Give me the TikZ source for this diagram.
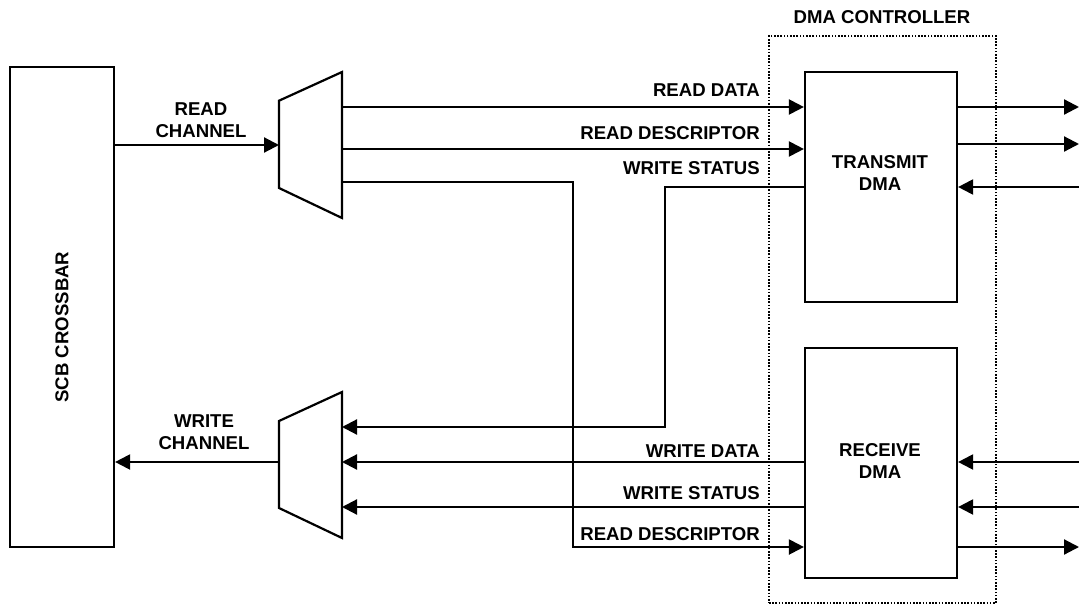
\documentclass[tikz,border=0pt]{standalone}
\usepackage{fontspec}
\setmainfont{Liberation Sans}
\usetikzlibrary{arrows.meta}
\begin{document}
\begin{tikzpicture}[x=1pt,y=-1pt,
  txt/.style={font=\bfseries\fontsize{18.6}{22}\selectfont, inner sep=0pt, align=center},
  lbl/.style={txt, anchor=east},
  blk/.style={draw, line width=2.2pt, inner sep=0pt},
  wire/.style={line width=2.2pt},
  arr/.style={line width=2.2pt, -{Triangle[length=15pt,width=15pt]}},
  ctrl/.style={draw, line width=1.6pt, dash pattern=on 1.6pt off 1.6pt}
]
\useasboundingbox (0,0) rectangle (1079,605);

% SCB crossbar
\node[blk, minimum width=104pt, minimum height=480pt] (scb) at (62,306.8) {};
\node[txt, rotate=90] (scbt) at (62,327) {SCB CROSSBAR};

% DMA controller
\node[ctrl, minimum width=227pt, minimum height=567pt] (dma) at (882.5,319.5) {};
\node[txt] (dmat) at (882,17) {DMA CONTROLLER};

% DMA blocks
\node[blk, minimum width=152pt, minimum height=230pt] (tx) at (881,187) {};
\node[txt] (txt1) at (880,173) {TRANSMIT\\DMA};
\node[blk, minimum width=152pt, minimum height=230pt] (rx) at (881,463) {};
\node[txt] (rxt1) at (880,461) {RECEIVE\\DMA};

% multiplexers
\coordinate (ma1) at (279,100.7);
\coordinate (ma2) at (342,72);
\coordinate (ma3) at (342,218);
\coordinate (ma4) at (279,188);
\draw[wire, line join=miter] (ma1) -- (ma2) -- (ma3) -- (ma4) -- cycle;
\coordinate (mb1) at (279,421);
\coordinate (mb2) at (342,392);
\coordinate (mb3) at (342,538);
\coordinate (mb4) at (279,508);
\draw[wire, line join=miter] (mb1) -- (mb2) -- (mb3) -- (mb4) -- cycle;

% mux ports
\coordinate (mai) at (279,145);
\coordinate (mao1) at (342,107);
\coordinate (mao2) at (342,149);
\coordinate (mao3) at (342,182);
\coordinate (mbo) at (279,462);
\coordinate (mbi1) at (342,427);
\coordinate (mbi2) at (342,462);
\coordinate (mbi3) at (342,507);
\coordinate (cr1) at (573,182);
\coordinate (cr2) at (573,547);
\coordinate (ws1) at (665,187);
\coordinate (ws2) at (665,427);
\coordinate (e1) at (1079,107);
\coordinate (e2) at (1079,144);
\coordinate (e3) at (1079,187);
\coordinate (e4) at (1079,462);
\coordinate (e5) at (1079,507);
\coordinate (e6) at (1079,547);

% channels
\draw[arr] (scb.east |- mai) -- (mai);
\node[txt] (rcl) at (201,120) {READ\\CHANNEL};
\draw[arr] (mbo) -- (scb.east |- mbo);
\node[txt] (wcl) at (204,432) {WRITE\\CHANNEL};

% top mux to transmit
\draw[arr] (mao1) -- (tx.west |- mao1);
\draw[arr] (mao2) -- (tx.west |- mao2);
\draw[arr] (mao3) -- (cr1) -- (cr2) -- (rx.west |- cr2);
\draw[arr] (tx.west |- ws1) -- (ws1) -- (ws2) -- (mbi1);
\draw[arr] (rx.west |- mbi2) -- (mbi2);
\draw[arr] (rx.west |- mbi3) -- (mbi3);

\node[lbl] (l1) at (760,90.5) {READ DATA};
\node[lbl] (l2) at (760,133) {READ DESCRIPTOR};
\node[lbl] (l3) at (760,168) {WRITE STATUS};
\node[lbl] (l4) at (760,450.7) {WRITE DATA};
\node[lbl] (l5) at (760,492.7) {WRITE STATUS};
\node[lbl] (l6) at (760,534.3) {READ DESCRIPTOR};

% right side
\draw[arr] (tx.east |- e1) -- (e1);
\draw[arr] (tx.east |- e2) -- (e2);
\draw[arr] (e3) -- (tx.east |- e3);
\draw[arr] (e4) -- (rx.east |- e4);
\draw[arr] (e5) -- (rx.east |- e5);
\draw[arr] (rx.east |- e6) -- (e6);
\end{tikzpicture}
\end{document}
